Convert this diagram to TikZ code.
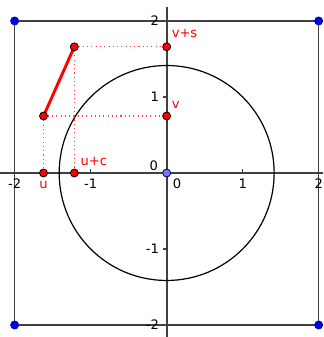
\documentclass[tikz,border=0pt]{standalone}
\usepackage{fontspec}
\setmainfont{DejaVu Sans}
\usetikzlibrary{positioning}

\begin{document}
\begin{tikzpicture}[
    font=\fontsize{4.9}{5.8}\selectfont,
    axis/.style={draw=black!75, line width=0.75pt},
    frame/.style={draw=black!75, line width=0.6pt},
    guide/.style={draw=red!75, line width=0.4pt, dash pattern=on 0.4pt off 1.2pt},
    ptred/.style={circle, draw=black, fill=red, line width=0.3pt, inner sep=0pt, minimum size=3pt},
    ptblue/.style={circle, draw=blue!50!black, fill=blue, line width=0.3pt, inner sep=0pt, minimum size=3pt},
    ptorig/.style={circle, draw=blue!30!black, fill=blue!55, line width=0.3pt, inner sep=0pt, minimum size=3pt},
    lbl/.style={text=red, inner sep=0pt},
    num/.style={inner sep=0pt}]

    \useasboundingbox (-2.193,-2.158) rectangle (2.057,2.276);

    % Achsen und Quadrat
    \coordinate (xl) at (-2.193,0);
    \coordinate (xr) at (2.057,0);
    \coordinate (yb) at (0,-2.158);
    \coordinate (yt) at (0,2.18);
    \coordinate (A) at (-2,2);
    \coordinate (B) at (2,2);
    \coordinate (C) at (2,-2);
    \coordinate (D) at (-2,-2);
    \draw[frame] (A) -- (B) -- (C) -- (D) -- cycle;
    \draw[axis] (xl) -- (xr);
    \draw[axis] (yb) -- (yt);
    \foreach \t in {-1,1} {
        \draw[axis, line width=0.45pt] (\t,0) -- (\t,0.05);
        \draw[axis, line width=0.45pt] (0,\t) -- (-0.05,\t);
    }
    \foreach \t/\s in {-2/-2,-1/-1,1/1,2/2}
        \node[num] at (\t,-0.145) {\s};
    \node[num] at (0.135,-0.145) {0};
    \foreach \t/\s in {2/2,1/1,-1/-1,-2/-2}
        \node[num, anchor=east] at (-0.095,\t) {\s};
    \node[num] at (-0.17,0.09) {0};

    % Kreis mit Radius sqrt(2)
    \draw[black, line width=0.45pt] (0,0) circle (1.4142);

    % Punkte
    \coordinate (O) at (0,0);
    \coordinate (u) at (-1.62,0);
    \coordinate (uc) at (-1.215,0);
    \coordinate (v) at (0,0.75);
    \coordinate (vs) at (0,1.66);
    \coordinate (P) at (-1.62,0.75);
    \coordinate (Q) at (-1.215,1.66);

    % Hilfslinien
    \draw[guide] (P) -- (u);
    \draw[guide] (Q) -- (uc);
    \draw[guide] (P) -- (v);
    \draw[guide] (Q) -- (vs);
    \draw[red, line width=1.1pt] (P) -- (Q);

    \foreach \p in {u,uc,v,vs,P,Q}
        \node[ptred] (n\p) at (\p) {};
    \foreach \p in {A,B,C,D}
        \node[ptblue] (n\p) at (\p) {};
    \node[ptorig] (nO) at (O) {};

    % Beschriftungen
    \node[lbl] at (-1.62,-0.16) {u};
    \node[lbl, anchor=west] at (-1.14,0.15) {u+c};
    \node[lbl, anchor=west] at (0.06,0.89) {v};
    \node[lbl, anchor=west] at (0.06,1.83) {v+s};
\end{tikzpicture}
\end{document}
